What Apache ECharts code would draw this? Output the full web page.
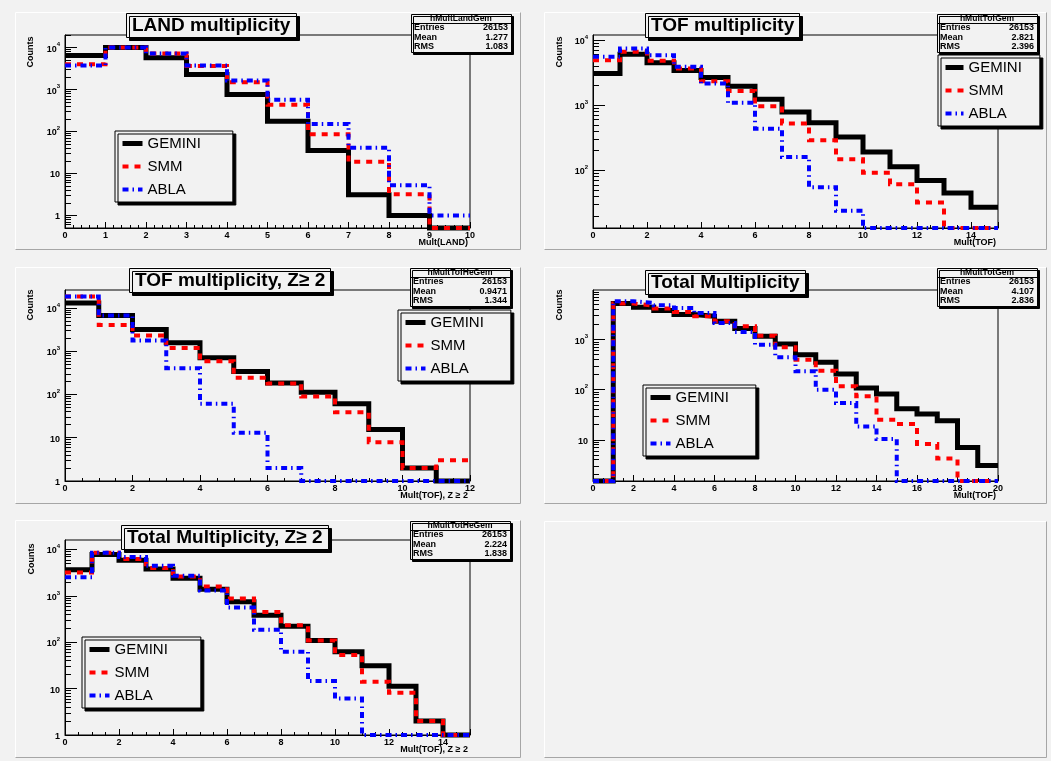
<!DOCTYPE html>
<html><head><meta charset="utf-8">
<script src="https://cdn.jsdelivr.net/npm/echarts@6/dist/echarts.min.js"></script>
<style>html,body{margin:0;padding:0;background:#f2f2f2;}#c{width:1051px;height:761px;}</style>
</head><body><div id="c"></div>
<script>
// ---------------- data (bin contents, bins of width 1 starting at 0) ----------------
const seriesNames = ['GEMINI', 'SMM', 'ABLA'];

const landGemini = [6500, 10000, 5750, 2300, 760, 175, 35, 3.1, 1, 0];
const landSmm    = [4000, 10000, 7200, 3630, 1500, 437, 86, 19, 3.2, 0];
const landAbla   = [3770, 10000, 7200, 3770, 1640, 575, 150, 41, 5.2, 1];

const tofGemini = [3070, 6100, 4480, 3410, 2670, 1960, 1240, 790, 540, 326, 191, 113, 70, 45, 27];
const tofSmm    = [4920, 6610, 4810, 3660, 2340, 1660, 966, 522, 290, 148, 92, 61, 32, 0, 0];
const tofAbla   = [5550, 7450, 5880, 3890, 2150, 1090, 437, 160, 55, 24, 0, 0, 0, 0, 0];

const tofZ2Gemini = [13000, 6650, 3160, 1560, 702, 340, 183, 113, 61, 15.6, 2.0, 0];
const tofZ2Smm    = [18300, 4050, 2300, 1190, 588, 242, 180, 90, 39, 7.9, 2.0, 3.0];
const tofZ2Abla   = [18300, 6650, 1760, 405, 61, 13, 2.0, 0, 0, 0, 0, 0];

const totGemini = [0, 5250, 4430, 3800, 3160, 2930, 2330, 1660, 1166, 820, 500, 352, 206, 108, 82, 41.7, 32.6, 24, 7, 3.07];
const totSmm    = [0, 5250, 4790, 4170, 3580, 2930, 2330, 1850, 1200, 703, 398, 240, 117, 73.6, 25, 20.6, 8.2, 4.2, 0, 0];
const totAbla   = [0, 5840, 5410, 4860, 4300, 3410, 2150, 1420, 794, 443, 233, 100, 54, 18.5, 10.3, 0, 0, 0, 0, 0];

const totZ2Gemini = [3660, 7780, 5850, 3790, 2410, 1390, 746, 382, 220, 109, 62.6, 31, 11.3, 2.0, 0];
const totZ2Smm    = [3200, 8460, 6260, 3980, 2620, 1590, 882, 451, 231, 109, 53, 14.1, 8.1, 2.0, 0];
const totZ2Abla   = [2530, 8460, 6920, 4480, 2710, 1300, 561, 186, 62.6, 14.6, 6.1, 0, 0, 0, 0];

// texts
const titles = ['LAND multiplicity', 'TOF multiplicity', 'TOF multiplicity, Z\u2265 2', 'Total Multiplicity', 'Total Multiplicity, Z\u2265 2'];
const xTitles = ['Mult(LAND)', 'Mult(TOF)', 'Mult(TOF), Z \u2265 2', 'Mult(TOF)', 'Mult(TOF), Z \u2265 2'];
const yTitle = 'Counts';
const statNames = ['hMultLandGem', 'hMultTofGem', 'hMultTofHeGem', 'hMultTotGem', 'hMultTotHeGem'];
const statEntries = ['26153', '26153', '26153', '26153', '26153'];
const statMeans = ['1.277', '2.821', '0.9471', '4.107', '2.224'];
const statRms = ['1.083', '2.396', '1.344', '2.836', '1.838'];
// axis ranges / tick spacing
const xMaxes = [10, 15, 12, 20, 15];
const xIntervals = [1, 2, 2, 2, 2];
const yMins = [0.5, 13, 1, 1.5, 1];
const yMaxes = [20000, 12000, 26000, 9800, 16000];

const histData = [
  [landGemini, landSmm, landAbla],
  [tofGemini, tofSmm, tofAbla],
  [tofZ2Gemini, tofZ2Smm, tofZ2Abla],
  [totGemini, totSmm, totAbla],
  [totZ2Gemini, totZ2Smm, totZ2Abla]
];

// ---------------- layout & style ----------------
const FONT = 'Liberation Sans, Arial, Helvetica, sans-serif';
const pads = [
  {x1: 15, y1: 12, x2: 521, y2: 250},
  {x1: 544, y1: 12, x2: 1047, y2: 250},
  {x1: 15, y1: 267, x2: 521, y2: 504},
  {x1: 544, y1: 267, x2: 1047, y2: 504},
  {x1: 15, y1: 520, x2: 521, y2: 758},
  {x1: 544, y1: 521, x2: 1047, y2: 758}
];
const grids = [
  {left: 65, top: 35, width: 405, height: 193},
  {left: 593, top: 35, width: 405, height: 193},
  {left: 65, top: 290, width: 405, height: 191},
  {left: 593, top: 290, width: 405, height: 191},
  {left: 65, top: 540, width: 405, height: 195}
];
const titlePos = [[126, 13], [645, 13], [129, 268], [645, 270], [121, 525]];
const statPos = [[411, 14], [937, 14], [410, 268], [937, 268], [410, 521]];
const legendPos = [
  {left: 115, top: 131, iw: 20, pr: 32},
  {left: 938, top: 55, iw: 18, pr: 18},
  {left: 398, top: 310, iw: 20, pr: 27},
  {left: 643, top: 385, iw: 20, pr: 27},
  {left: 82, top: 637, iw: 20, pr: 33}
];
const countsPos = [[31, 52], [560, 52], [31, 305], [560, 305], [32, 559]];
const lineStyles = [
  {color: '#000000', width: 5, type: 'solid'},
  {color: '#ff0000', width: 4, type: [6, 6]},
  {color: '#0000ff', width: 4, type: [6, 4, 1.5, 4]}
];

function stepData(vals, ymin) {
  const pts = vals.map((v, i) => [i, Math.max(v, ymin)]);
  pts.push([vals.length, Math.max(vals[vals.length - 1], ymin)]);
  return pts;
}
function decadeTicks(lo, hi) {
  const out = [];
  for (let e = Math.floor(Math.log10(lo)); e <= Math.ceil(Math.log10(hi)); e++) {
    const v = Math.pow(10, e);
    if (v >= lo * 0.999 && v <= hi) out.push(v);
  }
  return out;
}
function minorTicks(lo, hi) {
  const out = [];
  for (let e = Math.floor(Math.log10(lo)); e <= Math.ceil(Math.log10(hi)); e++) {
    for (let k = 2; k <= 9; k++) {
      const v = k * Math.pow(10, e);
      if (v >= lo && v <= hi) out.push(v);
    }
  }
  return out;
}

const option = {
  backgroundColor: '#f2f2f2',
  animation: false,
  color: ['#000000', '#ff0000', '#0000ff'],
  title: [], grid: [], xAxis: [], yAxis: [], series: [], legend: [], graphic: []
};

const labelStyle = {color: '#000', fontSize: 9, fontWeight: 'bold', fontFamily: FONT};

// pad borders
pads.forEach(p => {
  option.graphic.push({type: 'polyline', silent: true, z: 0,
    shape: {points: [[p.x1 + 0.5, p.y2 - 0.5], [p.x1 + 0.5, p.y1 + 0.5], [p.x2 - 0.5, p.y1 + 0.5]]},
    style: {stroke: '#ffffff', lineWidth: 1, fill: null}});
  option.graphic.push({type: 'polyline', silent: true, z: 0,
    shape: {points: [[p.x1 + 0.5, p.y2 - 0.5], [p.x2 - 0.5, p.y2 - 0.5], [p.x2 - 0.5, p.y1 + 0.5]]},
    style: {stroke: '#a6a6a6', lineWidth: 1, fill: null}});
});

histData.forEach((hs, i) => {
  const g = grids[i];
  const ymin = yMins[i], ymax = yMaxes[i];
  option.grid.push({left: g.left, top: g.top, width: g.width, height: g.height, show: true,
    borderColor: '#000', borderWidth: 1, backgroundColor: 'transparent', containLabel: false});
  option.xAxis.push({type: 'value', gridIndex: i, min: 0, max: xMaxes[i], interval: xIntervals[i],
    axisLine: {show: true, onZero: false, lineStyle: {color: '#000', width: 1}},
    axisTick: {show: true, inside: true, length: 6, lineStyle: {color: '#000', width: 1}},
    minorTick: {show: true, splitNumber: xIntervals[i] === 1 ? 5 : 4, length: 3, lineStyle: {color: '#000', width: 1}},
    axisLabel: Object.assign({margin: 3, showMaxLabel: xMaxes[i] % xIntervals[i] === 0, showMinLabel: true}, labelStyle),
    splitLine: {show: false}, minorSplitLine: {show: false}});
  const dec = decadeTicks(ymin, ymax);
  option.yAxis.push({type: 'log', logBase: 10, gridIndex: i, min: ymin, max: ymax, position: 'left',
    axisLine: {show: true, onZero: false, lineStyle: {color: '#000', width: 1}},
    axisTick: {show: true, inside: true, length: 12, customValues: dec, lineStyle: {color: '#000', width: 1}},
    axisLabel: {show: true, customValues: dec, margin: 5,
      formatter: function (v) {
        const e = Math.round(Math.log10(v));
        if (e === 0) return '{b|1}';
        if (e === 1) return '{b|10}';
        return '{b|10}{s|' + e + '}';
      },
      rich: {
        b: {fontSize: 9, fontWeight: 'bold', fontFamily: FONT, color: '#000', lineHeight: 12, verticalAlign: 'bottom'},
        s: {fontSize: 6, fontWeight: 'bold', fontFamily: FONT, color: '#000', lineHeight: 7, verticalAlign: 'top'}
      }},
    splitLine: {show: false}, minorTick: {show: false}, minorSplitLine: {show: false}});
  option.yAxis.push({type: 'log', logBase: 10, gridIndex: i, min: ymin, max: ymax, position: 'left',
    axisLine: {show: false},
    axisTick: {show: true, inside: true, length: 6, customValues: minorTicks(ymin, ymax), lineStyle: {color: '#000', width: 1}},
    axisLabel: {show: false}, splitLine: {show: false}});

  hs.forEach((vals, k) => {
    option.series.push({type: 'line', name: seriesNames[k], xAxisIndex: i, yAxisIndex: 2 * i,
      data: stepData(vals, ymin), step: 'end', symbol: 'none', showSymbol: false, clip: false,
      silent: true, itemStyle: {color: lineStyles[k].color},
      lineStyle: Object.assign({cap: 'butt', join: 'miter'}, lineStyles[k]),
      emphasis: {disabled: true}});
  });

  option.title.push({text: titles[i], left: titlePos[i][0], top: titlePos[i][1], padding: [3, 6],
    backgroundColor: '#f2f2f2', borderColor: '#000', borderWidth: 1,
    shadowColor: '#000', shadowOffsetX: 3, shadowOffsetY: 3, shadowBlur: 0, z: 8,
    textStyle: {fontSize: 19, fontWeight: 'bold', fontFamily: FONT, color: '#000', lineHeight: 19}});

  const L = legendPos[i];
  option.legend.push({
    data: seriesNames.map((n, k) => ({name: n,
      lineStyle: {color: lineStyles[k].color, width: lineStyles[k].width, type: lineStyles[k].type, cap: 'butt'}})),
    left: L.left, top: L.top, orient: 'vertical', selectedMode: false,
    itemWidth: L.iw, itemHeight: 10, itemGap: 8, padding: [5, L.pr, 5, 5],
    backgroundColor: '#f2f2f2', borderColor: '#000', borderWidth: 1, borderRadius: 0,
    shadowColor: '#000', shadowOffsetX: 3, shadowOffsetY: 3, shadowBlur: 0, z: 9,
    itemStyle: {opacity: 0, color: 'transparent', borderColor: 'transparent', borderWidth: 0},
    textStyle: {fontSize: 15, fontFamily: FONT, color: '#000', lineHeight: 15}});

  // y title
  option.graphic.push({type: 'text', x: countsPos[i][0], y: countsPos[i][1], rotation: Math.PI / 2, z: 20, silent: true,
    style: {text: yTitle, font: 'bold 9px ' + FONT, fill: '#000', align: 'center', verticalAlign: 'middle'}});
  // x title
  option.graphic.push({type: 'text', x: g.left + g.width - 2, y: g.top + g.height + 15, z: 20, silent: true,
    style: {text: xTitles[i], font: 'bold 9px ' + FONT, fill: '#000', align: 'right', verticalAlign: 'middle'}});
  // stats box
  const sx = statPos[i][0], sy = statPos[i][1], sw = 100, sh = 38;
  option.graphic.push({type: 'group', x: sx, y: sy, z: 30, silent: true, children: [
    {type: 'rect', shape: {x: 0.5, y: 0.5, width: sw, height: sh},
      style: {fill: '#f2f2f2', stroke: '#000', lineWidth: 1, shadowColor: '#000', shadowOffsetX: 2, shadowOffsetY: 2, shadowBlur: 0}},
    {type: 'line', shape: {x1: 0.5, y1: 9.5, x2: sw + 0.5, y2: 9.5}, style: {stroke: '#000', lineWidth: 1}},
    {type: 'text', x: sw / 2, y: 5, style: {text: statNames[i], font: 'bold 8.5px ' + FONT, fill: '#000', align: 'center', verticalAlign: 'middle'}},
    {type: 'text', x: 3, y: 14, style: {text: 'Entries', font: 'bold 9px ' + FONT, fill: '#000', align: 'left', verticalAlign: 'middle'}},
    {type: 'text', x: sw - 3, y: 14, style: {text: statEntries[i], font: 'bold 9px ' + FONT, fill: '#000', align: 'right', verticalAlign: 'middle'}},
    {type: 'text', x: 3, y: 24, style: {text: 'Mean', font: 'bold 9px ' + FONT, fill: '#000', align: 'left', verticalAlign: 'middle'}},
    {type: 'text', x: sw - 3, y: 24, style: {text: statMeans[i], font: 'bold 9px ' + FONT, fill: '#000', align: 'right', verticalAlign: 'middle'}},
    {type: 'text', x: 3, y: 33, style: {text: 'RMS', font: 'bold 9px ' + FONT, fill: '#000', align: 'left', verticalAlign: 'middle'}},
    {type: 'text', x: sw - 3, y: 33, style: {text: statRms[i], font: 'bold 9px ' + FONT, fill: '#000', align: 'right', verticalAlign: 'middle'}}
  ]});
});

const chart = echarts.init(document.getElementById('c'), null, {renderer: 'canvas'});
chart.setOption(option);
</script>
</body></html>
